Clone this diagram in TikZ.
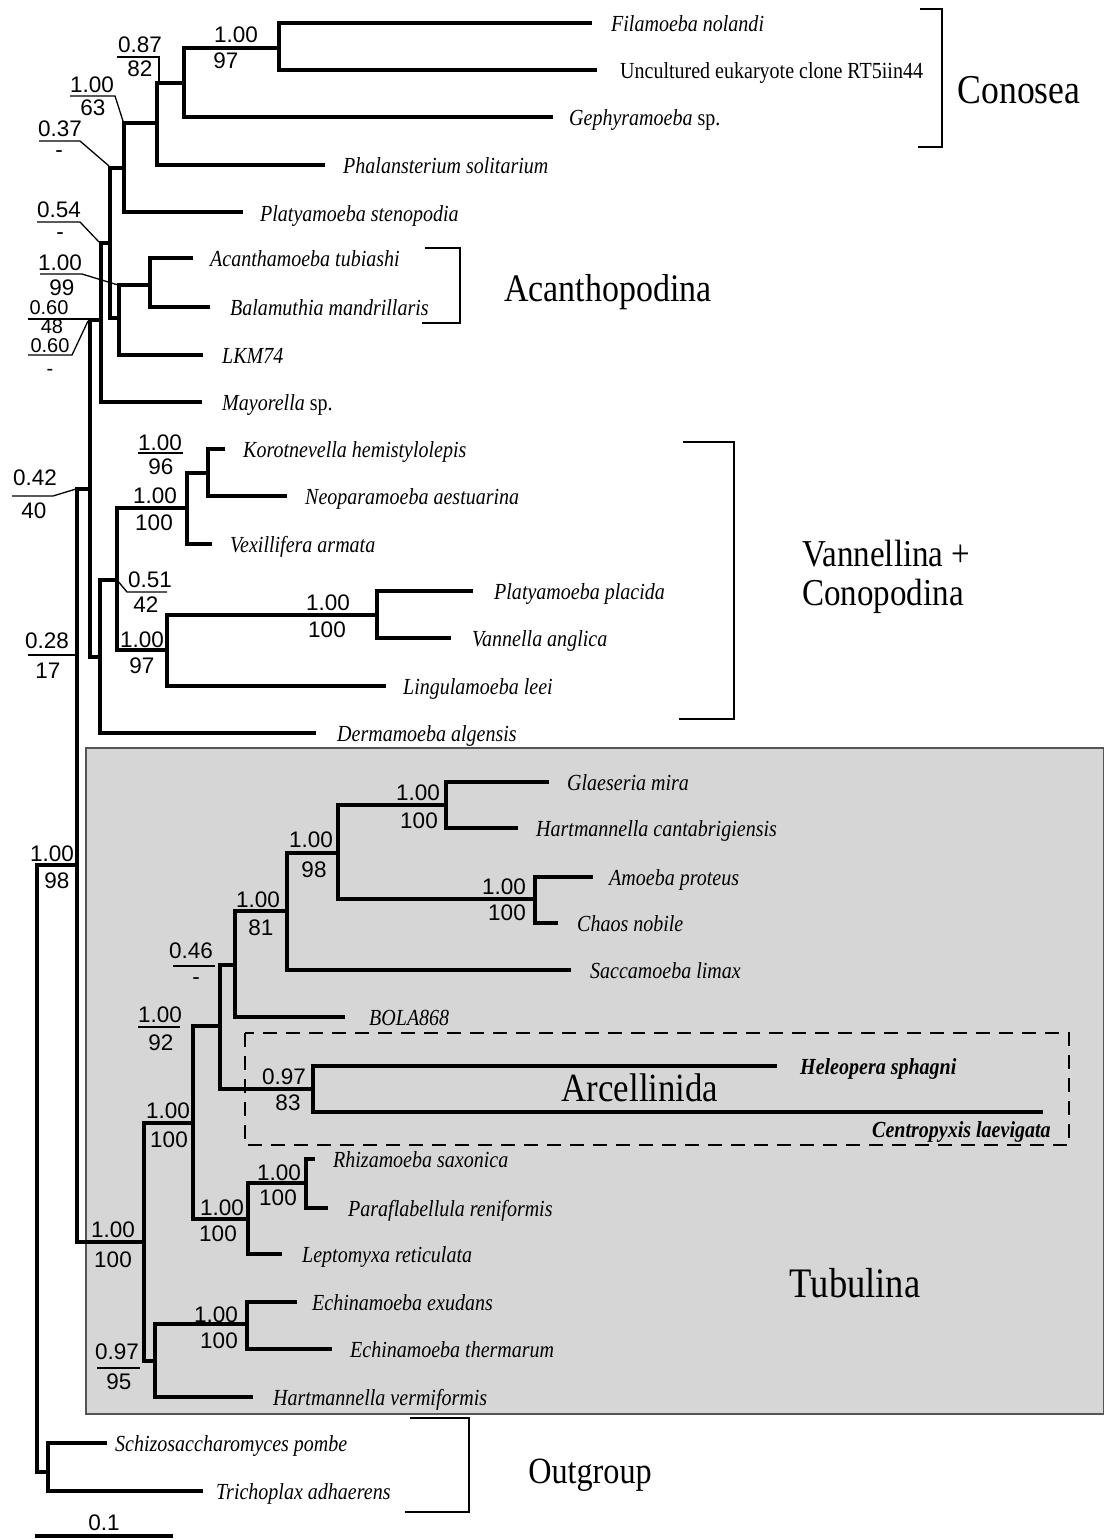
\documentclass[tikz,border=0pt]{standalone}
\usepackage{fontspec}
\setmainfont{Liberation Serif}[FakeStretch=0.87]
\newfontfamily\numfont{Liberation Sans}
\definecolor{boxgray}{RGB}{214,214,214}
\definecolor{boxedge}{RGB}{85,85,85}
\begin{document}
\begin{tikzpicture}[x=1pt,y=-1pt,
  br/.style={line width=4pt},
  bk/.style={line width=2.6pt},
  lead/.style={line width=1.3pt},
  taxon/.style={font=\fontsize{23}{26}\selectfont\itshape, anchor=base west, inner sep=0pt},
  taxonup/.style={font=\fontsize{23}{26}\selectfont, anchor=base west, inner sep=0pt},
  taxonbf/.style={font=\fontsize{23}{26}\selectfont\bfseries\itshape, anchor=base west, inner sep=0pt},
  supp/.style={font=\numfont\fontsize{22.5}{26}\selectfont, anchor=base, inner sep=0pt},
  supps/.style={font=\numfont\fontsize{20}{23}\selectfont, anchor=base, inner sep=0pt},
  clade/.style={inner sep=0pt}]
\useasboundingbox (0,0) rectangle (1104,1539);
% Tubulina background
\fill[boxgray, draw=boxedge, line width=1.2pt] (86,748) rectangle (1103.4,1414);
% Arcellinida dashed box
\draw[line width=1.5pt, dash pattern=on 14pt off 9pt] (245,1033) rectangle (1069,1145);

% ---------- tree coordinates ----------
\coordinate (R) at (37,1000);
\coordinate (OG) at (48,1472);
\coordinate (Schizo) at (107,1443);
\coordinate (Trich) at (203,1491);
\coordinate (IN) at (77,865);
\coordinate (N90) at (90,489);
\coordinate (N101) at (101,320);
\coordinate (N110) at (110,243);
\coordinate (N124) at (124,168);
\coordinate (N157) at (157,123);
\coordinate (N184) at (184,83);
\coordinate (N279) at (279,48);
\coordinate (Fil) at (592,23);
\coordinate (Unc) at (597,70);
\coordinate (Geph) at (553,117);
\coordinate (Phal) at (325,165);
\coordinate (Pst) at (243,212);
\coordinate (N119) at (119,318);
\coordinate (N150) at (150,285);
\coordinate (Acan) at (193,258);
\coordinate (Bal) at (210,307);
\coordinate (LKM) at (203,355);
\coordinate (May) at (202,402);
\coordinate (N100) at (100,657);
\coordinate (N117) at (117,580);
\coordinate (N187) at (187,508);
\coordinate (N208) at (208,473);
\coordinate (Kor) at (225,449);
\coordinate (Neo) at (287,496);
\coordinate (Vex) at (212,544);
\coordinate (N167) at (167,650);
\coordinate (N377) at (377,615);
\coordinate (Pplac) at (473,591);
\coordinate (Vang) at (451,638);
\coordinate (Ling) at (386,686);
\coordinate (Derm) at (316,733);
\coordinate (TUB) at (144,1242);
\coordinate (N193) at (193,1123);
\coordinate (N220) at (220,1026);
\coordinate (N235) at (235,965);
\coordinate (N287) at (287,911);
\coordinate (N338) at (338,853);
\coordinate (N446) at (446,805);
\coordinate (Glae) at (549,782);
\coordinate (Hcant) at (518,828);
\coordinate (N535) at (535,899);
\coordinate (Amoe) at (593,877);
\coordinate (Chaos) at (558,923);
\coordinate (Sacc) at (571,970);
\coordinate (BOLA) at (345,1017);
\coordinate (N313) at (313,1089);
\coordinate (Hel) at (777,1066);
\coordinate (Cent) at (1043,1112);
\coordinate (N248) at (248,1219);
\coordinate (N306) at (306,1183);
\coordinate (Rhiz) at (315,1159);
\coordinate (Para) at (328,1208);
\coordinate (Lept) at (282,1254);
\coordinate (N155) at (155,1361);
\coordinate (N247) at (247,1324);
\coordinate (Echex) at (297,1302);
\coordinate (Echth) at (332,1349);
\coordinate (Hverm) at (253,1397);

% ---------- branches ----------
\draw[br] (R) |- (IN); \draw[br] (R) |- (OG);
\draw[br] (OG) |- (Schizo); \draw[br] (OG) |- (Trich);
\draw[br] (IN) |- (N90); \draw[br] (IN) |- (TUB);
\draw[br] (N90) |- (N101); \draw[br] (N90) |- (N100);
\draw[br] (N101) |- (N110); \draw[br] (N101) |- (May);
\draw[br] (N110) |- (N124); \draw[br] (N110) |- (N119);
\draw[br] (N124) |- (N157); \draw[br] (N124) |- (Pst);
\draw[br] (N157) |- (N184); \draw[br] (N157) |- (Phal);
\draw[br] (N184) |- (N279); \draw[br] (N184) |- (Geph);
\draw[br] (N279) |- (Fil); \draw[br] (N279) |- (Unc);
\draw[br] (N119) |- (N150); \draw[br] (N119) |- (LKM);
\draw[br] (N150) |- (Acan); \draw[br] (N150) |- (Bal);
\draw[br] (N100) |- (N117); \draw[br] (N100) |- (Derm);
\draw[br] (N117) |- (N187); \draw[br] (N117) |- (N167);
\draw[br] (N187) |- (N208); \draw[br] (N187) |- (Vex);
\draw[br] (N208) |- (Kor); \draw[br] (N208) |- (Neo);
\draw[br] (N167) |- (N377); \draw[br] (N167) |- (Ling);
\draw[br] (N377) |- (Pplac); \draw[br] (N377) |- (Vang);
\draw[br] (TUB) |- (N193); \draw[br] (TUB) |- (N155);
\draw[br] (N193) |- (N220); \draw[br] (N193) |- (N248);
\draw[br] (N220) |- (N235); \draw[br] (N220) |- (N313);
\draw[br] (N235) |- (N287); \draw[br] (N235) |- (BOLA);
\draw[br] (N287) |- (N338); \draw[br] (N287) |- (Sacc);
\draw[br] (N338) |- (N446); \draw[br] (N338) |- (N535);
\draw[br] (N446) |- (Glae); \draw[br] (N446) |- (Hcant);
\draw[br] (N535) |- (Amoe); \draw[br] (N535) |- (Chaos);
\draw[br] (N313) |- (Hel); \draw[br] (N313) |- (Cent);
\draw[br] (N248) |- (N306); \draw[br] (N248) |- (Lept);
\draw[br] (N306) |- (Rhiz); \draw[br] (N306) |- (Para);
\draw[br] (N155) |- (N247); \draw[br] (N155) |- (Hverm);
\draw[br] (N247) |- (Echex); \draw[br] (N247) |- (Echth);

% ---------- taxon labels ----------
\node[taxon] (tFil) at (611,31) {Filamoeba nolandi};
\node[taxonup] (tUnc) at (620,78) {Uncultured eukaryote clone RT5iin44};
\node[taxon] (tGeph) at (569,125) {Gephyramoeba\/ \upshape sp.};
\node[taxon] (tPhal) at (343,173) {Phalansterium solitarium};
\node[taxon] (tPst) at (260,221) {Platyamoeba stenopodia};
\node[taxon] (tAcan) at (210,266) {Acanthamoeba tubiashi};
\node[taxon] (tBal) at (230,315) {Balamuthia mandrillaris};
\node[taxon] (tLKM) at (222,363) {LKM74};
\node[taxon] (tMay) at (222,410) {Mayorella\/ \upshape sp.};
\node[taxon] (tKor) at (243,457) {Korotnevella hemistylolepis};
\node[taxon] (tNeo) at (305,504) {Neoparamoeba aestuarina};
\node[taxon] (tVex) at (230,552) {Vexillifera armata};
\node[taxon] (tPplac) at (494,599) {Platyamoeba placida};
\node[taxon] (tVang) at (472,646) {Vannella anglica};
\node[taxon] (tLing) at (403,694) {Lingulamoeba leei};
\node[taxon] (tDerm) at (337,741) {Dermamoeba algensis};
\node[taxon] (tGlae) at (567,790) {Glaeseria mira};
\node[taxon] (tHcant) at (536,836) {Hartmannella cantabrigiensis};
\node[taxon] (tAmoe) at (609,885) {Amoeba proteus};
\node[taxon] (tChaos) at (577,931) {Chaos nobile};
\node[taxon] (tSacc) at (590,978) {Saccamoeba limax};
\node[taxon] (tBOLA) at (369,1025) {BOLA868};
\node[taxonbf] (tHel) at (800,1074) {Heleopera sphagni};
\node[taxonbf] (tCent) at (872,1137) {Centropyxis laevigata};
\node[taxon] (tRhiz) at (333,1167) {Rhizamoeba saxonica};
\node[taxon] (tPara) at (348,1216) {Paraflabellula reniformis};
\node[taxon] (tLept) at (302,1262) {Leptomyxa reticulata};
\node[taxon] (tEchex) at (312,1310) {Echinamoeba exudans};
\node[taxon] (tEchth) at (350,1357) {Echinamoeba thermarum};
\node[taxon] (tHverm) at (273,1405) {Hartmannella vermiformis};
\node[taxon] (tSchizo) at (115,1451) {Schizosaccharomyces pombe};
\node[taxon] (tTrich) at (216,1499) {Trichoplax adhaerens};

% ---------- support values ----------
\node[supp] (s1a) at (236,42) {1.00}; \node[supp] (s1b) at (226,68) {97};
\node[supp] (s2a) at (140,52) {0.87}; \node[supp] (s2b) at (140,76) {82};
\node[supp] (s3a) at (92,92) {1.00}; \node[supp] (s3b) at (93,115) {63};
\node[supp] (s4a) at (60,136) {0.37}; \node[supp] (s4b) at (59,157) {-};
\node[supp] (s5a) at (59,217) {0.54}; \node[supp] (s5b) at (60,239) {-};
\node[supp] (s6a) at (60,270) {1.00}; \node[supp] (s6b) at (62,295) {99};
\node[supps] (s7a) at (49,314) {0.60}; \node[supps] (s7b) at (52,333) {48};
\node[supps] (s8a) at (50,352) {0.60}; \node[supps] (s8b) at (50,375) {-};
\node[supp] (s9a) at (160,450) {1.00}; \node[supp] (s9b) at (161,474) {96};
\node[supp] (s10a) at (155,503) {1.00}; \node[supp] (s10b) at (154,530) {100};
\node[supp] (s11a) at (150,587) {0.51}; \node[supp] (s11b) at (146,612) {42};
\node[supp] (s12a) at (142,647) {1.00}; \node[supp] (s12b) at (142,673) {97};
\node[supp] (s13a) at (328,610) {1.00}; \node[supp] (s13b) at (327,637) {100};
\node[supp] (s14a) at (35,485) {0.42}; \node[supp] (s14b) at (34,518) {40};
\node[supp] (s15a) at (47,648) {0.28}; \node[supp] (s15b) at (48,678) {17};
\node[supp] (s16a) at (52,861) {1.00}; \node[supp] (s16b) at (57,888) {98};
\node[supp] (s17a) at (258,907) {1.00}; \node[supp] (s17b) at (261,935) {81};
\node[supp] (s18a) at (311,847) {1.00}; \node[supp] (s18b) at (314,877) {98};
\node[supp] (s19a) at (191,958) {0.46}; \node[supp] (s19b) at (196,984) {-};
\node[supp] (s20a) at (160,1022) {1.00}; \node[supp] (s20b) at (161,1050) {92};
\node[supp] (s21a) at (284,1084) {0.97}; \node[supp] (s21b) at (288,1110) {83};
\node[supp] (s22a) at (168,1118) {1.00}; \node[supp] (s22b) at (169,1147) {100};
\node[supp] (s23a) at (113,1237) {1.00}; \node[supp] (s23b) at (113,1267) {100};
\node[supp] (s24a) at (222,1215) {1.00}; \node[supp] (s24b) at (218,1241) {100};
\node[supp] (s25a) at (279,1180) {1.00}; \node[supp] (s25b) at (278,1205) {100};
\node[supp] (s26a) at (216,1322) {1.00}; \node[supp] (s26b) at (219,1348) {100};
\node[supp] (s27a) at (117,1359) {0.97}; \node[supp] (s27b) at (119,1389) {95};
\node[supp] (s29a) at (418,800) {1.00}; \node[supp] (s29b) at (419,828) {100};
\node[supp] (s30a) at (504,894) {1.00}; \node[supp] (s30b) at (507,920) {100};

% ---------- label leaders / underlines ----------
\draw[lead] (117,57) -- (159,57) -- (159,81);
\draw[lead] (70,96) -- (115,96) -- (123,121);
\draw[lead] (39,141) -- (80,141) -- (109,166);
\draw[lead] (37,222) -- (80,222) -- (99,242);
\draw[lead] (40,274) -- (82,274) -- (118,285);
\draw[lead] (28,319) -- (90,319);
\draw[lead] (28,355) -- (72,355) -- (88,321);
\draw[lead] (138,453) -- (183,453);
\draw[lead] (N117) -- (127,592) -- (167,592);
\draw[lead] (12,496) -- (53,496) -- (76,489);
\draw[lead] (28,655) -- (78,655);
\draw[lead] (173,966) -- (215,966);
\draw[lead] (138,1027) -- (180,1027);
\draw[lead] (97,1368) -- (140,1368);

% ---------- clade brackets ----------
\coordinate (cA1) at (920,9); \coordinate (cA2) at (942,9);
\coordinate (cA3) at (942,147); \coordinate (cA4) at (918,147);
\draw[bk] (cA1) -- (cA2) -- (cA3) -- (cA4);
\coordinate (cB1) at (425,248); \coordinate (cB2) at (460,248);
\coordinate (cB3) at (460,323); \coordinate (cB4) at (422,323);
\draw[bk] (cB1) -- (cB2) -- (cB3) -- (cB4);
\coordinate (cC1) at (683,442); \coordinate (cC2) at (734,442);
\coordinate (cC3) at (734,719); \coordinate (cC4) at (679,719);
\draw[bk] (cC1) -- (cC2) -- (cC3) -- (cC4);
\coordinate (cD1) at (410,1418); \coordinate (cD2) at (469,1418);
\coordinate (cD3) at (469,1512); \coordinate (cD4) at (405,1512);
\draw[bk] (cD1) -- (cD2) -- (cD3) -- (cD4);

% ---------- clade names ----------
\node[clade, font=\fontsize{41}{46}\selectfont] (kCon) at (1019,90) {Conosea};
\node[clade, font=\fontsize{39}{44}\selectfont] (kAca) at (608,292) {Acanthopodina};
\node[clade, font=\fontsize{38}{44}\selectfont, anchor=west] (kVan1) at (802,554) {Vannellina +};
\node[clade, font=\fontsize{38}{44}\selectfont, anchor=west] (kVan2) at (802,596) {Conopodina};
\node[clade, font=\fontsize{40}{44}\selectfont] (kArc) at (640,1088) {Arcellinida};
\node[clade, font=\fontsize{42}{46}\selectfont] (kTub) at (855,1283) {Tubulina};
\node[clade, font=\fontsize{37}{42}\selectfont] (kOut) at (590,1475) {Outgroup};

% ---------- scale bar ----------
\coordinate (sb1) at (35,1536); \coordinate (sb2) at (173,1536);
\draw[line width=3.2pt] (sb1) -- (sb2);
\node[supp] (sbl) at (104,1530) {0.1};
\end{tikzpicture}
\end{document}
